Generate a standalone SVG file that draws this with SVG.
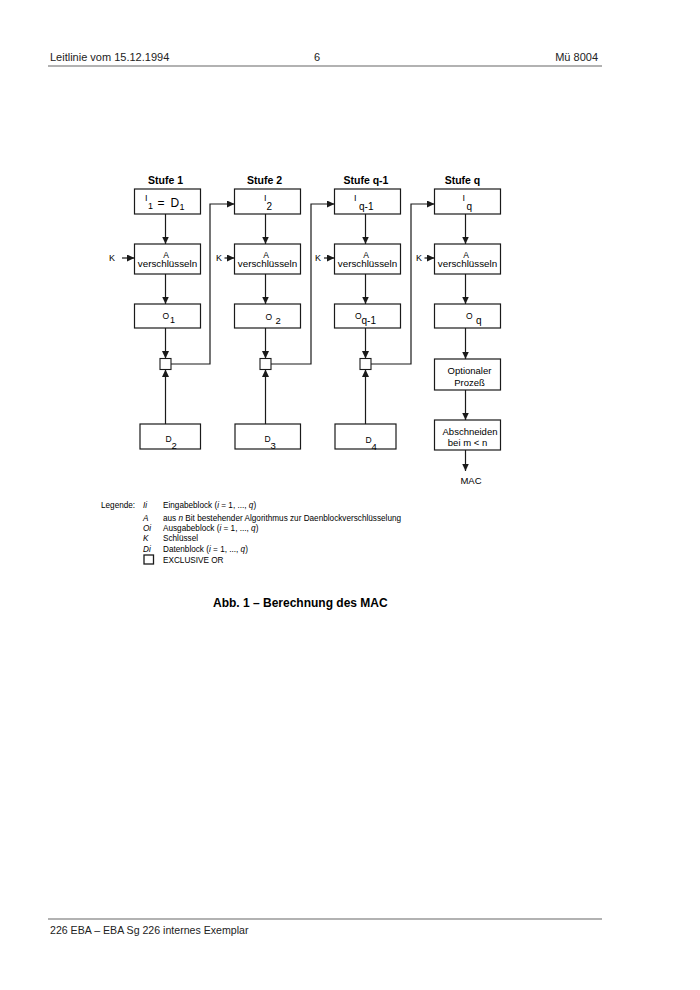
<svg xmlns="http://www.w3.org/2000/svg" width="700" height="990" viewBox="0 0 700 990">
<style>
  text { font-family: "Liberation Sans", Arial, sans-serif; fill: #000; }
  .hdr { font-size: 11px; fill: #222; }
  .ftr { font-size: 10.6px; fill: #222; }
  .rule { stroke: #999; stroke-width: 1.4; }
  .box { fill: #fff; stroke: #1a1a1a; stroke-width: 1.2; }
  .xor { fill: #fff; stroke: #1a1a1a; stroke-width: 1.1; }
  .ln { fill: none; stroke: #1a1a1a; stroke-width: 1.2; }
  .arr { marker-end: url(#ah); }
  .stufe { font-size: 10.5px; font-weight: bold; text-anchor: middle; }
  .mid { text-anchor: middle; }
  .t9 { font-size: 9.5px; }
  .k { font-size: 9px; text-anchor: middle; }
  .leg { font-size: 8.2px; }
  .it { font-style: italic; }
  .cap { font-size: 12px; font-weight: bold; }
</style>
<defs>
  <marker id="ah" markerUnits="userSpaceOnUse" markerWidth="8" markerHeight="8" refX="7.5" refY="3.5" orient="auto">
    <path d="M0,0 L7.5,3.5 L0,7 z" fill="#1a1a1a"/>
  </marker>
</defs>

<!-- page header / footer -->
<g id="header">
  <text class="hdr" x="50" y="61">Leitlinie vom 15.12.1994</text>
  <text class="hdr" x="317" y="61" text-anchor="middle">6</text>
  <text class="hdr" x="598" y="61" text-anchor="end">Mü 8004</text>
  <line class="rule" x1="48" y1="66" x2="602" y2="66"/>
</g>
<g id="footer">
  <line class="rule" x1="48" y1="919" x2="602" y2="919"/>
  <text class="ftr" x="50" y="934">226 EBA – EBA Sg 226 internes Exemplar</text>
</g>

<!-- stage labels -->
<g id="stage-labels">
  <text class="stufe" x="165.5" y="183.5">Stufe 1</text>
  <text class="stufe" x="264.5" y="183.5">Stufe 2</text>
  <text class="stufe" x="366" y="183.5">Stufe q-1</text>
  <text class="stufe" x="462.5" y="183.5">Stufe q</text>
</g>

<!-- Column 1 -->
<g id="I1">
  <rect class="box" x="134.5" y="189" width="66" height="25"/>
  <text><tspan x="145" y="201" font-size="9">I</tspan><tspan x="148" y="208.5" font-size="9">1</tspan><tspan x="157.5" y="207" font-size="12">=</tspan><tspan x="170.5" y="207" font-size="12">D</tspan><tspan x="179.5" y="210" font-size="9">1</tspan></text>
</g>
<g id="A1">
  <rect class="box" x="134.5" y="244" width="66" height="30"/>
  <text class="mid" x="166" y="257.5" font-size="8.5">A</text>
  <text class="mid" x="167.5" y="267" font-size="9.8">verschlüsseln</text>
</g>
<g id="O1">
  <rect class="box" x="134.5" y="304" width="66" height="24"/>
  <text><tspan x="162.5" y="319" font-size="8.5">O</tspan><tspan x="170" y="322.5" font-size="9">1</tspan></text>
</g>
<g id="X1"><rect class="xor" x="160" y="358.5" width="11" height="11"/></g>
<g id="D2">
  <rect class="box" x="140" y="424" width="60.5" height="25"/>
  <text><tspan x="165.5" y="442" font-size="8.5">D</tspan><tspan x="171.5" y="448.5" font-size="9.5">2</tspan></text>
</g>
<g id="K1"><text class="k" x="112" y="261">K</text></g>

<!-- Column 2 -->
<g id="I2">
  <rect class="box" x="234.5" y="189" width="66" height="25"/>
  <text><tspan x="264" y="201" font-size="9">I</tspan><tspan x="266.5" y="210" font-size="10">2</tspan></text>
</g>
<g id="A2">
  <rect class="box" x="234.5" y="244" width="66" height="30"/>
  <text class="mid" x="266" y="257.5" font-size="8.5">A</text>
  <text class="mid" x="267.5" y="267" font-size="9.8">verschlüsseln</text>
</g>
<g id="O2">
  <rect class="box" x="234.5" y="304" width="66" height="24"/>
  <text><tspan x="265.5" y="319.5" font-size="8.5">O</tspan><tspan x="275.5" y="323.5" font-size="9.5">2</tspan></text>
</g>
<g id="X2"><rect class="xor" x="260" y="358.5" width="11" height="11"/></g>
<g id="D3">
  <rect class="box" x="235" y="424" width="65.5" height="25"/>
  <text><tspan x="264.5" y="442" font-size="8.5">D</tspan><tspan x="270.5" y="448.5" font-size="9.5">3</tspan></text>
</g>
<g id="K2"><text class="k" x="219" y="261">K</text></g>

<!-- Column 3 -->
<g id="Iq-1">
  <rect class="box" x="334.5" y="189" width="66" height="25"/>
  <text><tspan x="354" y="201" font-size="9">I</tspan><tspan x="359" y="210" font-size="10">q-1</tspan></text>
</g>
<g id="A3">
  <rect class="box" x="334.5" y="244" width="66" height="30"/>
  <text class="mid" x="366" y="257.5" font-size="8.5">A</text>
  <text class="mid" x="367.5" y="267" font-size="9.8">verschlüsseln</text>
</g>
<g id="Oq-1">
  <rect class="box" x="334.5" y="304" width="66" height="24"/>
  <text><tspan x="355" y="318.5" font-size="8.5">O</tspan><tspan x="361.5" y="323.5" font-size="10">q-1</tspan></text>
</g>
<g id="X3"><rect class="xor" x="360" y="358.5" width="11" height="11"/></g>
<g id="D4">
  <rect class="box" x="335" y="424" width="61" height="25"/>
  <text><tspan x="365.5" y="442.5" font-size="8.5">D</tspan><tspan x="371.5" y="449.5" font-size="9.5">4</tspan></text>
</g>
<g id="K3"><text class="k" x="318" y="261">K</text></g>

<!-- Column 4 -->
<g id="Iq">
  <rect class="box" x="434.5" y="189" width="66" height="25"/>
  <text><tspan x="462.5" y="201" font-size="9">I</tspan><tspan x="466.5" y="210" font-size="10">q</tspan></text>
</g>
<g id="A4">
  <rect class="box" x="434.5" y="244" width="66" height="30"/>
  <text class="mid" x="466" y="257.5" font-size="8.5">A</text>
  <text class="mid" x="467.5" y="267" font-size="9.8">verschlüsseln</text>
</g>
<g id="Oq">
  <rect class="box" x="434.5" y="304" width="66" height="24"/>
  <text><tspan x="466" y="319" font-size="8.5">O</tspan><tspan x="476" y="324" font-size="10">q</tspan></text>
</g>
<g id="Opt">
  <rect class="box" x="434.5" y="359" width="66" height="31"/>
  <text class="mid t9" x="469.5" y="373.5">Optionaler</text>
  <text class="mid t9" x="469.5" y="385.5">Prozeß</text>
</g>
<g id="Abs">
  <rect class="box" x="434.5" y="420" width="66" height="30"/>
  <text class="mid t9" x="470" y="434.5">Abschneiden</text>
  <text class="mid t9" x="467.5" y="445.5">bei m &lt; n</text>
</g>
<g id="MAC"><text class="mid t9" x="471" y="484">MAC</text></g>
<g id="K4"><text class="k" x="419" y="261">K</text></g>

<!-- connectors -->
<g id="connectors">
  <!-- col 1 -->
  <line class="ln arr" x1="165.5" y1="214" x2="165.5" y2="244"/>
  <line class="ln arr" x1="165.5" y1="274" x2="165.5" y2="304"/>
  <line class="ln arr" x1="165.5" y1="328" x2="165.5" y2="358.5"/>
  <line class="ln arr" x1="165.5" y1="424" x2="165.5" y2="369.5"/>
  <line class="ln arr" x1="122" y1="258" x2="134.5" y2="258"/>
  <path class="ln arr" d="M171,364 H210 V204 H234.5"/>
  <!-- col 2 -->
  <line class="ln arr" x1="265.5" y1="214" x2="265.5" y2="244"/>
  <line class="ln arr" x1="265.5" y1="274" x2="265.5" y2="304"/>
  <line class="ln arr" x1="265.5" y1="328" x2="265.5" y2="358.5"/>
  <line class="ln arr" x1="265.5" y1="424" x2="265.5" y2="369.5"/>
  <line class="ln arr" x1="224.5" y1="258" x2="234.5" y2="258"/>
  <path class="ln arr" d="M271,364 H311 V204 H334.5"/>
  <!-- col 3 -->
  <line class="ln arr" x1="365.5" y1="214" x2="365.5" y2="244"/>
  <line class="ln arr" x1="365.5" y1="274" x2="365.5" y2="304"/>
  <line class="ln arr" x1="365.5" y1="328" x2="365.5" y2="358.5"/>
  <line class="ln arr" x1="365.5" y1="424" x2="365.5" y2="369.5"/>
  <line class="ln arr" x1="324" y1="258" x2="334.5" y2="258"/>
  <path class="ln arr" d="M371,364 H411 V204 H434.5"/>
  <!-- col 4 -->
  <line class="ln arr" x1="465.5" y1="214" x2="465.5" y2="244"/>
  <line class="ln arr" x1="465.5" y1="274" x2="465.5" y2="304"/>
  <line class="ln arr" x1="465.5" y1="328" x2="465.5" y2="359"/>
  <line class="ln arr" x1="465.5" y1="390" x2="465.5" y2="420"/>
  <line class="ln arr" x1="465.5" y1="450" x2="465.5" y2="471"/>
  <line class="ln arr" x1="424.5" y1="258" x2="434.5" y2="258"/>
</g>

<!-- legend -->
<g id="legend">
  <text class="leg" x="101" y="507.5">Legende:</text>
  <text class="leg it" x="143" y="507.5">Ii</text>
  <text class="leg" x="163" y="507.5">Eingabeblock (<tspan class="it">i</tspan> = 1, ..., <tspan class="it">q</tspan>)</text>
  <text class="leg it" x="143" y="520.5">A</text>
  <text class="leg" x="163" y="520.5">aus <tspan class="it">n</tspan> Bit bestehender Algorithmus zur Daenblockverschlüsselung</text>
  <text class="leg it" x="143" y="530.5">Oi</text>
  <text class="leg" x="163" y="530.5">Ausgabeblock (<tspan class="it">i</tspan> = 1, ..., <tspan class="it">q</tspan>)</text>
  <text class="leg it" x="143" y="541">K</text>
  <text class="leg" x="163" y="541">Schlüssel</text>
  <text class="leg it" x="143" y="551.5">Di</text>
  <text class="leg" x="163" y="551.5">Datenblock (<tspan class="it">i</tspan> = 1, ..., <tspan class="it">q</tspan>)</text>
  <rect x="144" y="555" width="9.5" height="9" fill="#fff" stroke="#1a1a1a" stroke-width="1.3"/>
  <text class="leg" x="163" y="562.5">EXCLUSIVE OR</text>
</g>

<g id="caption">
  <text class="cap" x="213" y="607">Abb. 1 – Berechnung des MAC</text>
</g>
</svg>
